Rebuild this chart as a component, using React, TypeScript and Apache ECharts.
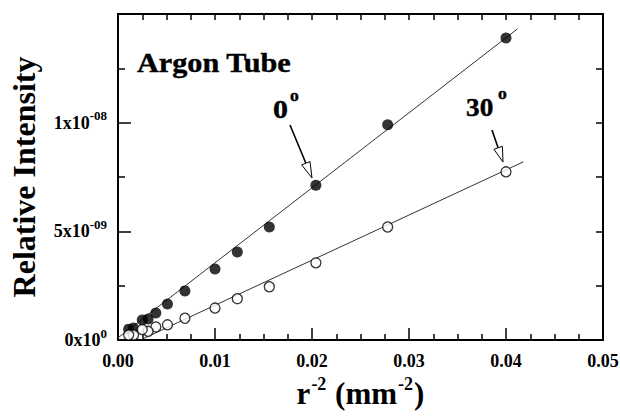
import React, { useEffect, useRef } from 'react';
import * as echarts from 'echarts';

// x = r^-2 (mm^-2)
const rInvSq = [0.04, 0.0278, 0.0204, 0.0156, 0.0123, 0.01, 0.0069, 0.0051, 0.0039, 0.0031, 0.0025, 0.0016, 0.0011];
// 0 degree (filled)
const intensity0 = [1.39e-8, 9.9e-9, 7.12e-9, 5.2e-9, 4.05e-9, 3.27e-9, 2.26e-9, 1.66e-9, 1.24e-9, 0.97e-9, 0.92e-9, 0.55e-9, 0.5e-9];
// 30 degree (open)
const intensity30 = [7.74e-9, 5.2e-9, 3.55e-9, 2.45e-9, 1.9e-9, 1.47e-9, 1.0e-9, 0.7e-9, 0.6e-9, 0.4e-9, 0.48e-9, 0.23e-9, 0.23e-9];
// linear fit endpoints
const fit0 = [[0, 0.1e-9], [0.0412, 1.432e-8]];
const fit30 = [[0.0023, 0], [0.0418, 8.2e-9]];

const xTickLabels = ['0.00', '0.01', '0.02', '0.03', '0.04', '0.05'];
const yTickBase = ['0x10', '5x10', '1x10', ''];
const yTickExp = ['0', '-09', '-08', ''];

const FONT = 'Liberation Serif, serif';

const txt = (text: string, x: number, y: number, size: number, scaleX: number) => ({
  type: 'text', x, y, scaleX,
  style: {
    text, fontFamily: FONT, fontWeight: 'bold', fontSize: size, fill: '#000',
    align: 'left', verticalAlign: 'middle', stroke: '#000', lineWidth: 0.4,
  },
});

export default function App() {
  const ref = useRef<HTMLDivElement>(null);
  useEffect(() => {
    if (!ref.current) return;
    const chart = echarts.init(ref.current, null, { renderer: 'svg' });
    const axisLine = { show: true, onZero: false, lineStyle: { color: '#000', width: 2 } };
    const option: any = {
      animation: false,
      backgroundColor: '#fff',
      grid: { left: 118, right: 17, top: 14, bottom: 76, containLabel: false, outerBoundsMode: 'none' },
      xAxis: [
        {
          type: 'value', min: 0, max: 0.05, interval: 0.01, position: 'bottom',
          axisLine, splitLine: { show: false },
          axisTick: { show: true, inside: true, length: 12, lineStyle: { color: '#000', width: 1.5 } },
          minorTick: { show: true, splitNumber: 4, length: 6, lineStyle: { color: '#000', width: 1.5 } },
          axisLabel: {
            margin: 12, color: '#000', fontFamily: FONT, fontWeight: 'bold', fontSize: 18,
            formatter: (v: number) => xTickLabels[Math.round(v / 0.01)] ?? '',
          },
          name: '{m|r}{s|-2}{m| (mm}{s|-2}{m|)}',
          nameLocation: 'middle', nameGap: 38,
          nameTextStyle: {
            rich: {
              m: { fontFamily: FONT, fontWeight: 'bold', fontSize: 31, color: '#000', lineHeight: 31 },
              s: { fontFamily: FONT, fontWeight: 'bold', fontSize: 18, color: '#000', lineHeight: 18, padding: [0, 1, 20, 1] },
            },
          },
        },
        {
          type: 'value', min: 0, max: 0.05, interval: 0.01, position: 'top',
          axisLine, splitLine: { show: false }, axisLabel: { show: false },
          axisTick: { show: true, inside: true, length: 6, lineStyle: { color: '#000', width: 1.5 } },
          minorTick: { show: true, splitNumber: 4, length: 6, lineStyle: { color: '#000', width: 1.5 } },
        },
      ],
      yAxis: [
        {
          type: 'value', min: 0, max: 1.5e-8, interval: 5e-9, position: 'left',
          axisLine, splitLine: { show: false },
          axisTick: { show: true, inside: true, length: 13, lineStyle: { color: '#000', width: 1.5 } },
          minorTick: { show: true, splitNumber: 2, length: 7, lineStyle: { color: '#000', width: 1.5 } },
          axisLabel: {
            margin: 11, color: '#000',
            formatter: (v: number) => {
              const i = Math.round(v / 5e-9);
              if (!yTickBase[i]) return '';
              return '{b|' + yTickBase[i] + '}{s|' + yTickExp[i] + '}';
            },
            rich: {
              b: { fontFamily: FONT, fontWeight: 'bold', fontSize: 18, color: '#000', lineHeight: 18 },
              s: { fontFamily: FONT, fontWeight: 'bold', fontSize: 13, color: '#000', lineHeight: 13, padding: [0, 0, 14, 0] },
            },
          },
          name: 'Relative Intensity',
          nameLocation: 'middle', nameGap: 78, nameRotate: 90,
          nameTextStyle: { fontFamily: FONT, fontWeight: 'bold', fontSize: 32, color: '#000' },
        },
        {
          type: 'value', min: 0, max: 1.5e-8, interval: 5e-9, position: 'right',
          axisLine, splitLine: { show: false }, axisLabel: { show: false },
          axisTick: { show: true, inside: true, length: 7, lineStyle: { color: '#000', width: 1.5 } },
          minorTick: { show: true, splitNumber: 2, length: 7, lineStyle: { color: '#000', width: 1.5 } },
        },
      ],
      series: [
        {
          type: 'line', data: fit0, showSymbol: false, symbol: 'none', silent: true,
          lineStyle: { color: '#333', width: 1 }, z: 1,
        },
        {
          type: 'line', data: fit30, showSymbol: false, symbol: 'none', silent: true,
          lineStyle: { color: '#333', width: 1 }, z: 1,
        },
        {
          type: 'scatter', data: rInvSq.map((x, i) => [x, intensity0[i]]),
          symbol: 'circle', symbolSize: 11, itemStyle: { color: '#000' }, z: 3,
        },
        {
          type: 'scatter', data: rInvSq.map((x, i) => [x, intensity30[i]]),
          symbol: 'circle', symbolSize: 10,
          itemStyle: { color: '#fff', borderColor: '#000', borderWidth: 1.3 }, z: 3,
        },
      ],
      graphic: [
        txt('Argon Tube', 137, 63, 27, 1.12),
        txt('0', 273, 109, 26, 1.15),
        txt('o', 290, 96, 16, 1.1),
        txt('30', 466, 107, 26, 1.05),
        txt('o', 498, 94, 16, 1.1),
        // 0 degree arrow
        { type: 'line', shape: { x1: 290, y1: 125, x2: 305.9, y2: 163.2 }, style: { stroke: '#000', lineWidth: 1.6 } },
        {
          type: 'polygon',
          shape: { points: [[312, 178], [301.7, 164.9], [310.0, 161.5]] },
          style: { fill: '#fff', stroke: '#000', lineWidth: 1 },
        },
        // 30 degree arrow
        { type: 'line', shape: { x1: 492, y1: 130, x2: 498.1, y2: 147.8 }, style: { stroke: '#000', lineWidth: 1.6 } },
        {
          type: 'polygon',
          shape: { points: [[503, 162], [493.9, 149.3], [502.4, 146.3]] },
          style: { fill: '#fff', stroke: '#000', lineWidth: 1 },
        },
      ],
    };
    chart.setOption(option);
    return () => chart.dispose();
  }, []);
  return (
    <div
      ref={ref}
      style={{ position: 'fixed', left: 0, top: 0, width: 620, height: 416, background: '#fff' }}
    />
  );
}
